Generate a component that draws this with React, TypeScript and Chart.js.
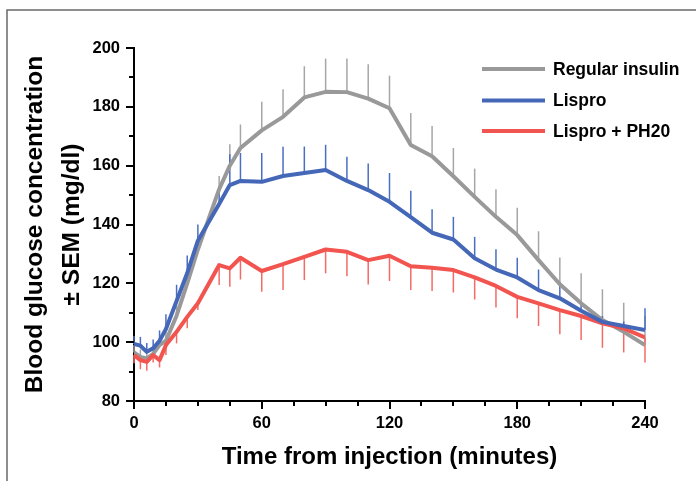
import React, { useEffect, useRef } from 'react';
import { Chart, registerables } from 'chart.js';

Chart.register(...registerables);

// ---- data (minutes, mg/dl) ----
const times = [0, 3, 6, 9, 12, 15, 20, 25, 30, 40, 45, 50, 60, 70, 80, 90, 100, 110, 120, 130, 140, 150, 160, 170, 180, 190, 200, 210, 220, 230, 240];

const regularMean = [96.5, 95, 94.5, 96, 99, 100.5, 109, 120, 131.5, 152, 160, 166, 172, 176.6, 183.2, 185.1, 185, 182.8, 179.5, 167, 163.2, 156.4, 149.4, 142.6, 136.4, 127.9, 119.7, 113.2, 107.5, 103.5, 99];
const regularSem = [2.5, 2.5, 2, 2, 2.5, 3, 3.5, 4, 4.5, 4.5, 7.3, 8, 9.7, 9.4, 10.6, 11.3, 11.4, 11.7, 11.1, 10.9, 10.3, 9.6, 9.6, 9.4, 9.3, 9.8, 9.1, 10.2, 10.5, 9.9, 10];

const lisproMean = [99.4, 98.8, 96.7, 97.9, 100.5, 104.5, 114, 123.5, 134.5, 147, 153.4, 154.8, 154.5, 156.5, 157.5, 158.5, 154.8, 151.7, 147.7, 142.5, 137.2, 134.9, 128.5, 124.7, 122, 117.7, 114.9, 110.7, 106.9, 105.5, 104.1];
const lisproSem = [2.7, 3, 3, 3, 3.5, 5, 5.5, 6, 5.5, 6, 10.5, 9.5, 9.8, 9.9, 9, 8.6, 8.2, 9, 9.8, 9, 8, 7.7, 7.3, 6.9, 6.7, 7, 5.6, 3, 2, 1.5, 7.4];

const ph20Mean = [95.6, 93.9, 93.3, 95.6, 93.9, 99, 103.5, 108.6, 113.2, 126.2, 125.1, 128.7, 124.2, 126.5, 129, 131.5, 130.7, 127.9, 129.4, 125.8, 125.3, 124.5, 122, 119.1, 115.4, 113.2, 110.9, 108.9, 106.4, 104.7, 101.6];
const ph20Sem = [2.8, 3.1, 3, 2.5, 2.5, 3.4, 3.9, 3.9, 2.3, 6.8, 6.3, 7.4, 7.1, 8.8, 7.9, 8.1, 8.3, 8.3, 8.6, 8.1, 7.9, 7.6, 7.5, 7.3, 7.3, 7.7, 8.2, 8.2, 8.3, 8.2, 8.5];

const seriesLabels = ['Regular insulin', 'Lispro', 'Lispro + PH20'];
const xMajorTicks = [0, 60, 120, 180, 240];
const yMajorTicks = [80, 100, 120, 140, 160, 180, 200];
const xTitle = 'Time from injection (minutes)';
const yTitleLines = ['Blood glucose concentration', '\u00B1 SEM (mg/dl)'];

const FONT = '"Liberation Sans", Arial, Helvetica, sans-serif';
const COLORS = ['#999999', '#4467b7', '#f2544f'];
const BAR_COLORS = ['#a6a6a6', '#4a6ec3', '#f46a66'];

const toPoints = (ys: number[]) => times.map((t, i) => ({ x: t, y: ys[i] }));

const errorBarPlugin = {
  id: 'errorBars',
  beforeDatasetsDraw(chart: any) {
    const ctx = chart.ctx;
    const yScale = chart.scales.y;
    chart.data.datasets.forEach((ds: any, di: number) => {
      const meta = chart.getDatasetMeta(di);
      ctx.save();
      ctx.strokeStyle = ds.errColor;
      ctx.lineWidth = 1.5;
      meta.data.forEach((pt: any, i: number) => {
        const v = ds.data[i].y;
        const end = yScale.getPixelForValue(v + ds.errDir * ds.sem[i]);
        ctx.beginPath();
        ctx.moveTo(pt.x, pt.y);
        ctx.lineTo(pt.x, end);
        ctx.stroke();
      });
      ctx.restore();
    });
  },
};

const decorPlugin = {
  id: 'decor',
  beforeDraw(chart: any) {
    const ctx = chart.ctx;
    ctx.save();
    ctx.fillStyle = '#ffffff';
    ctx.fillRect(0, 0, chart.width, chart.height);
    ctx.strokeStyle = '#6a6a6a';
    ctx.lineWidth = 1.5;
    ctx.beginPath();
    ctx.moveTo(7, chart.height);
    ctx.lineTo(7, 10);
    ctx.lineTo(chart.width, 10);
    ctx.stroke();
    ctx.restore();
  },
  afterDraw(chart: any) {
    const ctx = chart.ctx;
    const xs = chart.scales.x;
    const ys = chart.scales.y;
    const area = chart.chartArea;
    ctx.save();
    ctx.strokeStyle = '#000';
    ctx.lineWidth = 2;
    // y ticks
    for (let v = ys.min; v <= ys.max; v += 10) {
      const p = Math.round(ys.getPixelForValue(v));
      const len = yMajorTicks.includes(v) ? 8 : 5;
      ctx.beginPath();
      ctx.moveTo(area.left - len, p);
      ctx.lineTo(area.left, p);
      ctx.stroke();
    }
    // x ticks
    for (let v = xs.min; v <= xs.max; v += 15) {
      const p = Math.round(xs.getPixelForValue(v));
      const len = xMajorTicks.includes(v) ? 8 : 5;
      ctx.beginPath();
      ctx.moveTo(p, area.bottom);
      ctx.lineTo(p, area.bottom + len);
      ctx.stroke();
    }
    // titles
    ctx.fillStyle = '#000';
    ctx.font = `bold 24px ${FONT}`;
    ctx.textAlign = 'center';
    ctx.textBaseline = 'alphabetic';
    ctx.fillText(xTitle, (area.left + area.right) / 2, area.bottom + 63);
    const cy = (area.top + area.bottom) / 2;
    ctx.font = `bold 24.5px ${FONT}`;
    [area.left - 92, area.left - 55].forEach((bx, i) => {
      ctx.save();
      ctx.translate(bx, cy);
      ctx.rotate(-Math.PI / 2);
      ctx.fillText(yTitleLines[i], 0, 0);
      ctx.restore();
    });
    // legend
    const lx0 = area.right - 163;
    const lx1 = area.right - 100;
    const tx = area.right - 92;
    const rows = [area.top + 21, area.top + 52.5, area.top + 83];
    ctx.font = `bold 17.5px ${FONT}`;
    ctx.textAlign = 'left';
    ctx.textBaseline = 'middle';
    chart.data.datasets.forEach((ds: any, i: number) => {
      ctx.strokeStyle = ds.borderColor;
      ctx.lineWidth = 4;
      ctx.beginPath();
      ctx.moveTo(lx0, rows[i]);
      ctx.lineTo(lx1, rows[i]);
      ctx.stroke();
      ctx.fillStyle = '#000';
      ctx.fillText(ds.label, tx, rows[i] + 1);
    });
    ctx.restore();
  },
};

export default function App() {
  const ref = useRef<HTMLCanvasElement | null>(null);
  useEffect(() => {
    if (!ref.current) return;
    const chart = new Chart(ref.current, {
      type: 'line',
      data: {
        datasets: [
          { label: seriesLabels[0], data: toPoints(regularMean), sem: regularSem, errDir: 1, errColor: BAR_COLORS[0], borderColor: COLORS[0], order: 2 } as any,
          { label: seriesLabels[1], data: toPoints(lisproMean), sem: lisproSem, errDir: 1, errColor: BAR_COLORS[1], borderColor: COLORS[1], order: 0 } as any,
          { label: seriesLabels[2], data: toPoints(ph20Mean), sem: ph20Sem, errDir: -1, errColor: BAR_COLORS[2], borderColor: COLORS[2], order: 1 } as any,
        ],
      },
      options: {
        responsive: false,
        animation: false,
        events: [],
        layout: { padding: { top: 48, right: 51, left: 0, bottom: 0 } },
        elements: {
          point: { radius: 0 },
          line: { borderWidth: 4, tension: 0, borderJoinStyle: 'round', borderCapStyle: 'butt', fill: false },
        },
        plugins: { legend: { display: false }, tooltip: { enabled: false }, title: { display: false } },
        scales: {
          x: {
            type: 'linear',
            min: 0,
            max: 240,
            afterFit: (s: any) => { s.height = 80; },
            grid: { display: false, drawTicks: false },
            border: { display: true, color: '#000', width: 2 },
            ticks: {
              stepSize: 60,
              autoSkip: false,
              maxRotation: 0,
              padding: 13,
              color: '#000',
              font: { family: FONT, size: 16.5, weight: 'bold' },
              callback: (v: any) => (xMajorTicks.includes(v) ? String(v) : ''),
            },
          },
          y: {
            type: 'linear',
            min: 80,
            max: 200,
            afterFit: (s: any) => { s.width = 134; },
            grid: { display: false, drawTicks: false },
            border: { display: true, color: '#000', width: 2 },
            ticks: {
              stepSize: 20,
              autoSkip: false,
              padding: 14,
              color: '#000',
              font: { family: FONT, size: 16.5, weight: 'bold' },
              callback: (v: any) => (yMajorTicks.includes(v) ? String(v) : ''),
            },
          },
        },
      } as any,
      plugins: [decorPlugin, errorBarPlugin],
    });
    return () => chart.destroy();
  }, []);
  return (
    <div style={{ position: 'fixed', left: 0, top: 0, width: 696, height: 481, background: '#fff' }}>
      <canvas ref={ref} width={696} height={481} style={{ display: 'block', width: 696, height: 481 }} />
    </div>
  );
}
